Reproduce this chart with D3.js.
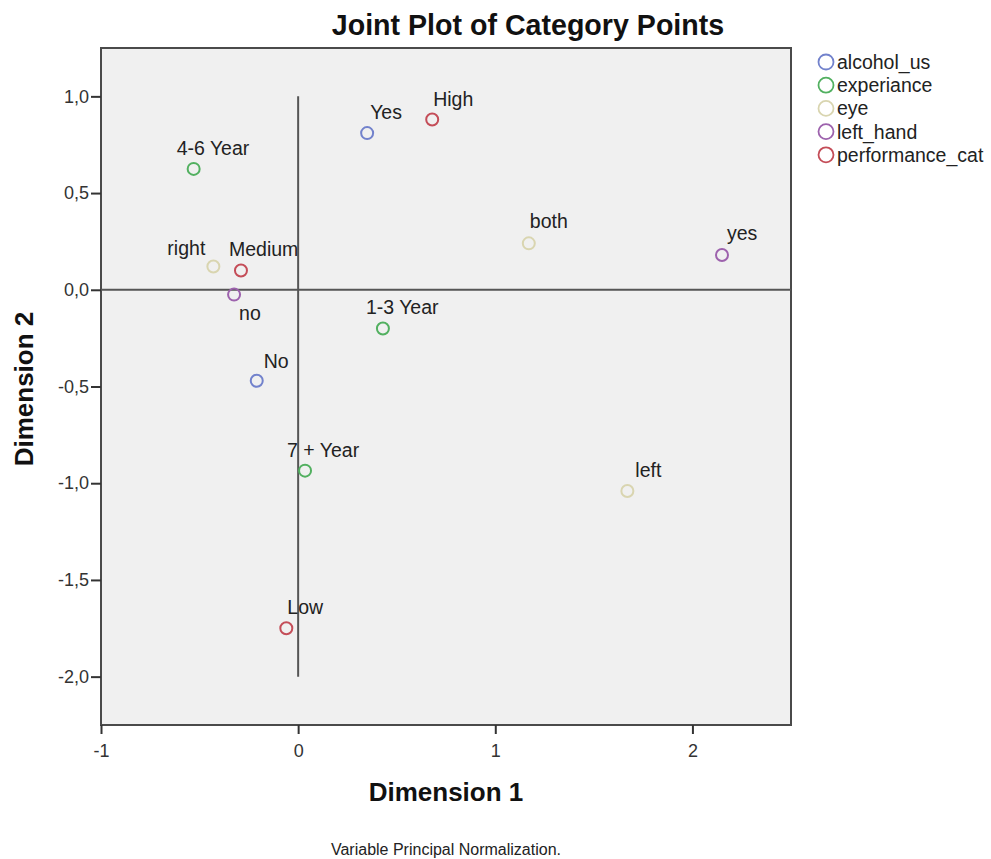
<!DOCTYPE html>
<html><head><meta charset="utf-8">
<script src="https://cdn.jsdelivr.net/npm/d3@7"></script>
<style>body{margin:0;background:#fff;} text{font-family:"Liberation Sans",Arial,sans-serif;}</style>
</head><body>
<svg id="c" width="991" height="859"></svg>
<script>
// Data
const variables = ["alcohol_us","experiance","eye","left_hand","performance_cat"];
const labels    = ["Yes","No","4-6 Year","1-3 Year","7 + Year","right","both","left","yes","no","High","Medium","Low"];
const groups    = ["alcohol_us","alcohol_us","experiance","experiance","experiance","eye","eye","eye","left_hand","left_hand","performance_cat","performance_cat","performance_cat"];
const dim1      = [0.35,-0.21,-0.53,0.43,0.035,-0.43,1.17,1.67,2.15,-0.325,0.68,-0.29,-0.06];
const dim2      = [0.81,-0.47,0.625,-0.20,-0.935,0.12,0.24,-1.04,0.18,-0.025,0.88,0.10,-1.75];
const xTicks    = [-1,0,1,2];
const yTicks    = [1.0,0.5,0.0,-0.5,-1.0,-1.5,-2.0];

// Layout / style
const colors = {alcohol_us:"#7282cc",experiance:"#52b060",eye:"#d9d5b0",left_hand:"#9d62ad",performance_cat:"#c44d58"};
const labelOffset = [[3,-14],[7,-13],[-17,-14],[-17,-14],[-18,-14],[-46,-12],[1,-15],[8,-14],[5,-15],[5,25],[1,-14],[-12,-14],[1,-14]];

const svg = d3.select("#c");
const L=101, R=791, T=48, B=725;
const x = d3.scaleLinear().domain([-1,2.5]).range([L,R]);
const y = d3.scaleLinear().domain([-2.25,1.25]).range([B,T]);

svg.append("rect").attr("x",L).attr("y",T).attr("width",R-L).attr("height",B-T)
  .attr("fill","#f0f0f0").attr("stroke","#4a4a4a").attr("stroke-width",2);

// reference lines
svg.append("line").attr("x1",L).attr("x2",R).attr("y1",y(0)).attr("y2",y(0)).attr("stroke","#555").attr("stroke-width",2);
svg.append("line").attr("x1",x(0)).attr("x2",x(0)).attr("y1",y(1)).attr("y2",y(-2)).attr("stroke","#555").attr("stroke-width",2);

// axes
const fmt = d=>d3.format(".1f")(d).replace(".",",").replace("−","-");
const xa = svg.append("g").attr("transform",`translate(0,${B})`)
  .call(d3.axisBottom(x).tickValues(xTicks).tickSize(9).tickSizeOuter(0).tickFormat(d=>String(d)));
const ya = svg.append("g").attr("transform",`translate(${L},0)`)
  .call(d3.axisLeft(y).tickValues(yTicks).tickSize(10).tickSizeOuter(0).tickFormat(fmt));
[xa,ya].forEach(a=>{
  a.select(".domain").remove();
  a.selectAll(".tick line").attr("stroke","#333").attr("stroke-width",2);
  a.selectAll(".tick text").attr("fill","#333").style("font-size","18px");
});
xa.selectAll(".tick text").attr("y",16).attr("dy","0.9em");
ya.selectAll(".tick text").attr("x",-12);

// points
const pts = labels.map((l,i)=>({label:l,g:groups[i],d1:dim1[i],d2:dim2[i],off:labelOffset[i]}));
svg.append("g").selectAll("circle").data(pts).join("circle")
  .attr("cx",d=>x(d.d1)).attr("cy",d=>y(d.d2)).attr("r",6)
  .attr("fill","none").attr("stroke",d=>colors[d.g]).attr("stroke-width",2);
svg.append("g").selectAll("text").data(pts).join("text")
  .attr("x",d=>x(d.d1)+d.off[0]).attr("y",d=>y(d.d2)+d.off[1])
  .attr("fill","#222").style("font-size","19.5px").text(d=>d.label);

// titles
svg.append("text").attr("x",528).attr("y",35).attr("text-anchor","middle")
  .style("font-size","28.6px").style("font-weight","bold").attr("fill","#111").text("Joint Plot of Category Points");
svg.append("text").attr("x",446).attr("y",801).attr("text-anchor","middle")
  .style("font-size","26px").style("font-weight","bold").attr("fill","#111").text("Dimension 1");
svg.append("text").attr("transform","translate(33,389) rotate(-90)").attr("text-anchor","middle")
  .style("font-size","26px").style("font-weight","bold").attr("fill","#111").text("Dimension 2");
svg.append("text").attr("x",446).attr("y",855).attr("text-anchor","middle")
  .style("font-size","16px").attr("fill","#222").text("Variable Principal Normalization.");

// legend
const lg = svg.append("g").selectAll("g").data(variables).join("g")
  .attr("transform",(d,i)=>`translate(826,${62+i*23.2})`);
lg.append("circle").attr("r",7.5).attr("fill","none").attr("stroke",d=>colors[d]).attr("stroke-width",1.8);
lg.append("text").attr("x",11).attr("y",7).attr("fill","#222").style("font-size","19.5px").text(d=>d);
</script>
</body></html>
